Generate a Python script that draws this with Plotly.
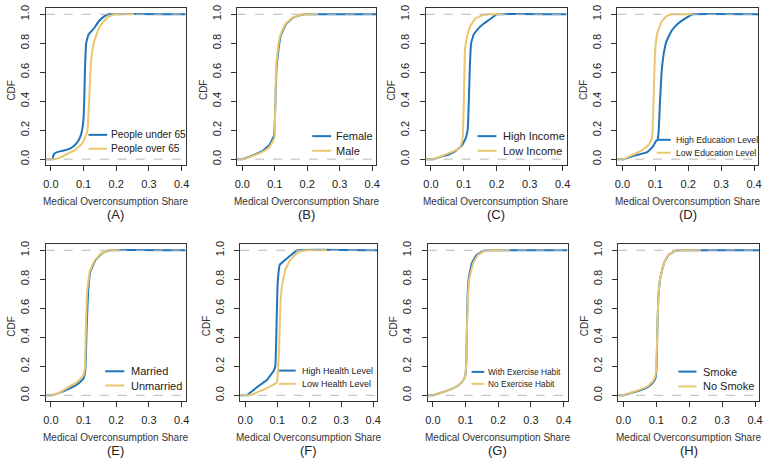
import plotly.graph_objects as go

W, H = 767, 462
BLUE = "#1f74ba"
GOLD = "#e9c66f"
AXC = "#333333"
FONT = "Liberation Sans, Arial, sans-serif"

panel_labels = ["(A)", "(B)", "(C)", "(D)", "(E)", "(F)", "(G)", "(H)"]
legend_names = [
    ("People under 65", "People over 65"),
    ("Female", "Male"),
    ("High Income", "Low Income"),
    ("High Education Level", "Low Education Level"),
    ("Married", "Unmarried"),
    ("High Health Level", "Low Health Level"),
    ("With Exercise Habit", "No Exercise Habit"),
    ("Smoke", "No Smoke"),
]
x_ticks = [0.0, 0.1, 0.2, 0.3, 0.4]
y_ticks = [0.0, 0.2, 0.4, 0.6, 0.8, 1.0]

# ---- CDF data (x = overconsumption share, y = cumulative share) ----
a_blue_x = [0.005, 0.008, 0.015, 0.025, 0.04, 0.058, 0.073, 0.085, 0.093, 0.099, 0.102, 0.104, 0.108, 0.115, 0.131, 0.146, 0.163, 0.176]
a_blue_y = [0, 0.03, 0.045, 0.052, 0.06, 0.073, 0.096, 0.13, 0.176, 0.256, 0.4, 0.6, 0.8, 0.86, 0.9, 0.95, 0.985, 1.0]
a_gold_x = [0.012, 0.033, 0.053, 0.073, 0.093, 0.105, 0.112, 0.117, 0.121, 0.124, 0.131, 0.146, 0.161, 0.178, 0.195]
a_gold_y = [0, 0.016, 0.039, 0.062, 0.1, 0.15, 0.2, 0.4, 0.6, 0.7, 0.8, 0.9, 0.95, 0.985, 1.0]

b_blue_x = [0.0, 0.031, 0.062, 0.082, 0.093, 0.098, 0.101, 0.105, 0.111, 0.118, 0.134, 0.155, 0.18, 0.196]
b_blue_y = [0, 0.025, 0.055, 0.095, 0.14, 0.165, 0.32, 0.62, 0.75, 0.85, 0.93, 0.975, 0.995, 1.0]
b_gold_x = [0.0, 0.031, 0.062, 0.082, 0.093, 0.099, 0.101, 0.104, 0.109, 0.116, 0.132, 0.153, 0.178, 0.194]
b_gold_y = [0, 0.022, 0.05, 0.08, 0.12, 0.15, 0.32, 0.62, 0.75, 0.85, 0.93, 0.975, 0.995, 1.0]

c_blue_x = [0.008, 0.029, 0.054, 0.074, 0.095, 0.107, 0.112, 0.115, 0.118, 0.122, 0.130, 0.146, 0.161, 0.176, 0.191, 0.2]
c_blue_y = [0, 0.016, 0.032, 0.055, 0.096, 0.153, 0.21, 0.39, 0.62, 0.80, 0.86, 0.906, 0.936, 0.96, 0.986, 1.0]
c_gold_x = [0.005, 0.034, 0.064, 0.085, 0.093, 0.097, 0.100, 0.103, 0.110, 0.120, 0.135, 0.156, 0.176]
c_gold_y = [0, 0.023, 0.05, 0.073, 0.107, 0.164, 0.39, 0.735, 0.85, 0.92, 0.97, 0.993, 1.0]

d_blue_x = [0.005, 0.035, 0.074, 0.092, 0.102, 0.106, 0.110, 0.114, 0.119, 0.126, 0.134, 0.149, 0.169, 0.189, 0.209, 0.214]
d_blue_y = [0, 0.023, 0.046, 0.084, 0.125, 0.13, 0.187, 0.39, 0.6, 0.735, 0.815, 0.884, 0.936, 0.968, 0.995, 1.0]
d_gold_x = [0.005, 0.025, 0.055, 0.079, 0.089, 0.092, 0.096, 0.099, 0.106, 0.119, 0.134, 0.149]
d_gold_y = [0, 0.023, 0.055, 0.096, 0.14, 0.21, 0.51, 0.735, 0.87, 0.95, 0.986, 1.0]

e_blue_x = [0.002, 0.028, 0.053, 0.079, 0.099, 0.104, 0.106, 0.109, 0.114, 0.121, 0.137, 0.157, 0.18]
e_blue_y = [0, 0.018, 0.043, 0.073, 0.112, 0.15, 0.19, 0.44, 0.717, 0.854, 0.934, 0.98, 1.0]
e_gold_x = [0.002, 0.028, 0.053, 0.079, 0.099, 0.104, 0.107, 0.111, 0.119, 0.135, 0.155, 0.176, 0.186]
e_gold_y = [0, 0.02, 0.055, 0.089, 0.135, 0.18, 0.44, 0.717, 0.854, 0.934, 0.98, 0.998, 1.0]

f_blue_x = [0.005, 0.01, 0.026, 0.047, 0.068, 0.078, 0.089, 0.094, 0.097, 0.101, 0.108, 0.125, 0.141, 0.162]
f_blue_y = [0, 0.009, 0.037, 0.073, 0.105, 0.135, 0.169, 0.2, 0.4, 0.76, 0.9, 0.934, 0.963, 1.0]
f_gold_x = [0.015, 0.037, 0.068, 0.089, 0.099, 0.101, 0.106, 0.110, 0.115, 0.125, 0.141, 0.162, 0.183, 0.193]
f_gold_y = [0, 0.02, 0.05, 0.073, 0.089, 0.123, 0.33, 0.626, 0.76, 0.865, 0.934, 0.98, 0.998, 1.0]

g_blue_x = [0.0, 0.02, 0.051, 0.076, 0.092, 0.099, 0.102, 0.104, 0.106, 0.110, 0.119, 0.134, 0.155, 0.17]
g_blue_y = [0, 0.014, 0.037, 0.066, 0.1, 0.135, 0.215, 0.44, 0.67, 0.81, 0.91, 0.968, 0.995, 1.0]
g_gold_x = [0.0, 0.02, 0.051, 0.076, 0.092, 0.099, 0.102, 0.104, 0.107, 0.112, 0.123, 0.138, 0.159, 0.175]
g_gold_y = [0, 0.014, 0.037, 0.066, 0.1, 0.135, 0.215, 0.44, 0.67, 0.81, 0.91, 0.968, 0.995, 1.0]

h_blue_x = [0.0, 0.02, 0.051, 0.076, 0.091, 0.098, 0.101, 0.103, 0.106, 0.112, 0.123, 0.137, 0.157, 0.172]
h_blue_y = [0, 0.014, 0.035, 0.06, 0.09, 0.125, 0.215, 0.44, 0.67, 0.81, 0.91, 0.968, 0.995, 1.0]
h_gold_x = [0.0, 0.02, 0.051, 0.076, 0.091, 0.098, 0.100, 0.103, 0.106, 0.112, 0.123, 0.137, 0.157, 0.172]
h_gold_y = [0, 0.016, 0.039, 0.066, 0.1, 0.145, 0.215, 0.44, 0.67, 0.81, 0.91, 0.968, 0.995, 1.0]

# largest observed value of the second (gold) group in each panel
gold_max = [0.255, 0.232, 0.22, 0.213, 0.21, 0.255, 0.235, 0.235]

series = [
    (a_blue_x, a_blue_y, a_gold_x, a_gold_y),
    (b_blue_x, b_blue_y, b_gold_x, b_gold_y),
    (c_blue_x, c_blue_y, c_gold_x, c_gold_y),
    (d_blue_x, d_blue_y, d_gold_x, d_gold_y),
    (e_blue_x, e_blue_y, e_gold_x, e_gold_y),
    (f_blue_x, f_blue_y, f_gold_x, f_gold_y),
    (g_blue_x, g_blue_y, g_gold_x, g_gold_y),
    (h_blue_x, h_blue_y, h_gold_x, h_gold_y),
]

# ---- layout geometry (pixels) ----
XR = [-0.016, 0.412]
YR = [-0.04, 1.04]
boxes = [  # left, right, top, bottom
    (44, 185, 5.5, 163), (237, 377, 5.5, 163), (427, 569, 5.5, 163), (620, 762, 5.5, 163),
    (44, 185, 243, 400.7), (240, 378, 243, 400.7), (429, 570, 243, 400.7), (621, 763, 243, 400.7),
]
# legend: line x0, x1, text x, row1 y, row2 y, font size
legends = [
    (87.3, 106, 108.3, 132.7, 146.7, 10.2),
    (312.7, 331.7, 335, 134, 148.7, 11),
    (479.3, 498.3, 502.7, 134, 148.7, 11),
    (660, 674, 677.3, 137.7, 150.7, 8.7),
    (104, 123.3, 127.7, 370.7, 385, 11),
    (279.3, 296, 300, 370, 383.3, 9),
    (473.3, 486, 488.3, 371.3, 383.3, 8.3),
    (681.7, 700, 705, 371, 386, 11),
]

def px(x):
    return x / W

def py(y):
    return 1 - y / H

fig = go.Figure()
shapes = []
annotations = []

for i in range(8):
    k = "" if i == 0 else str(i + 1)
    xa, ya = "x" + k, "y" + k
    bx, by, gx, gy = series[i]
    # blue curve extends across the whole axis; gold ends at its max observation
    fig.add_trace(go.Scatter(x=[XR[0]] + bx + [XR[1]], y=[0] + by + [1],
                             xaxis=xa, yaxis=ya, mode="lines",
                             line=dict(color=BLUE, width=2, shape="spline", smoothing=0.25),
                             showlegend=False, hoverinfo="skip"))
    fig.add_trace(go.Scatter(x=[XR[0]] + gx + [gold_max[i]], y=[0] + gy + [1],
                             xaxis=xa, yaxis=ya, mode="lines",
                             line=dict(color=GOLD, width=2, shape="spline", smoothing=0.25),
                             showlegend=False, hoverinfo="skip"))
    l, r, t, b = boxes[i]
    axis_common = dict(showline=True, mirror=True, linecolor=AXC, linewidth=1,
                       ticks="outside", ticklen=5, tickcolor=AXC, tickwidth=1,
                       showgrid=False, zeroline=False, tickformat=".1f",
                       tickfont=dict(family=FONT, size=11, color="#222"))
    fig.layout["xaxis" + k] = dict(axis_common, domain=[px(l), px(r)], range=XR, anchor=ya,
                                   tickvals=x_ticks, ticklabelstandoff=4)
    fig.layout["yaxis" + k] = dict(axis_common, domain=[py(b), py(t)], range=YR, anchor=xa,
                                   tickvals=y_ticks, tickangle=-90, ticklabelstandoff=6)
    # dashed reference lines at 0 and 1
    for yv in (0, 1):
        shapes.append(dict(type="line", xref=xa + " domain", yref=ya, x0=0, x1=1, y0=yv, y1=yv,
                           line=dict(color="#b8b8b8", width=1, dash="dash"), layer="above"))
    # titles
    cx = px((l + r) / 2)
    annotations.append(dict(text="Medical Overconsumption Share", x=cx, y=py(b + 36.5), xref="paper", yref="paper",
                            showarrow=False, font=dict(family=FONT, size=10, color="#333"),
                            xanchor="center", yanchor="middle"))
    annotations.append(dict(text=panel_labels[i], x=cx, y=py(b + 49.5), xref="paper", yref="paper",
                            showarrow=False, font=dict(family=FONT, size=13, color="#222"),
                            xanchor="center", yanchor="middle"))
    annotations.append(dict(text="CDF", x=px(l - 34), y=py((t + b) / 2 + 3), xref="paper", yref="paper",
                            showarrow=False, textangle=-90, font=dict(family=FONT, size=10, color="#333"),
                            xanchor="center", yanchor="middle"))
    # legend
    lx0, lx1, tx, r1, r2, fs = legends[i]
    for yy, col, name in ((r1, BLUE, legend_names[i][0]), (r2, GOLD, legend_names[i][1])):
        shapes.append(dict(type="line", xref="paper", yref="paper", x0=px(lx0), x1=px(lx1),
                           y0=py(yy), y1=py(yy), line=dict(color=col, width=2)))
        annotations.append(dict(text=name, x=px(tx), y=py(yy), xref="paper", yref="paper",
                                showarrow=False, font=dict(family=FONT, size=fs, color="#222"),
                                xanchor="left", yanchor="middle"))

fig.update_layout(width=W, height=H, margin=dict(l=0, r=0, t=0, b=0),
                  paper_bgcolor="white", plot_bgcolor="white",
                  shapes=shapes, annotations=annotations, showlegend=False)
fig.write_html("out.html")
